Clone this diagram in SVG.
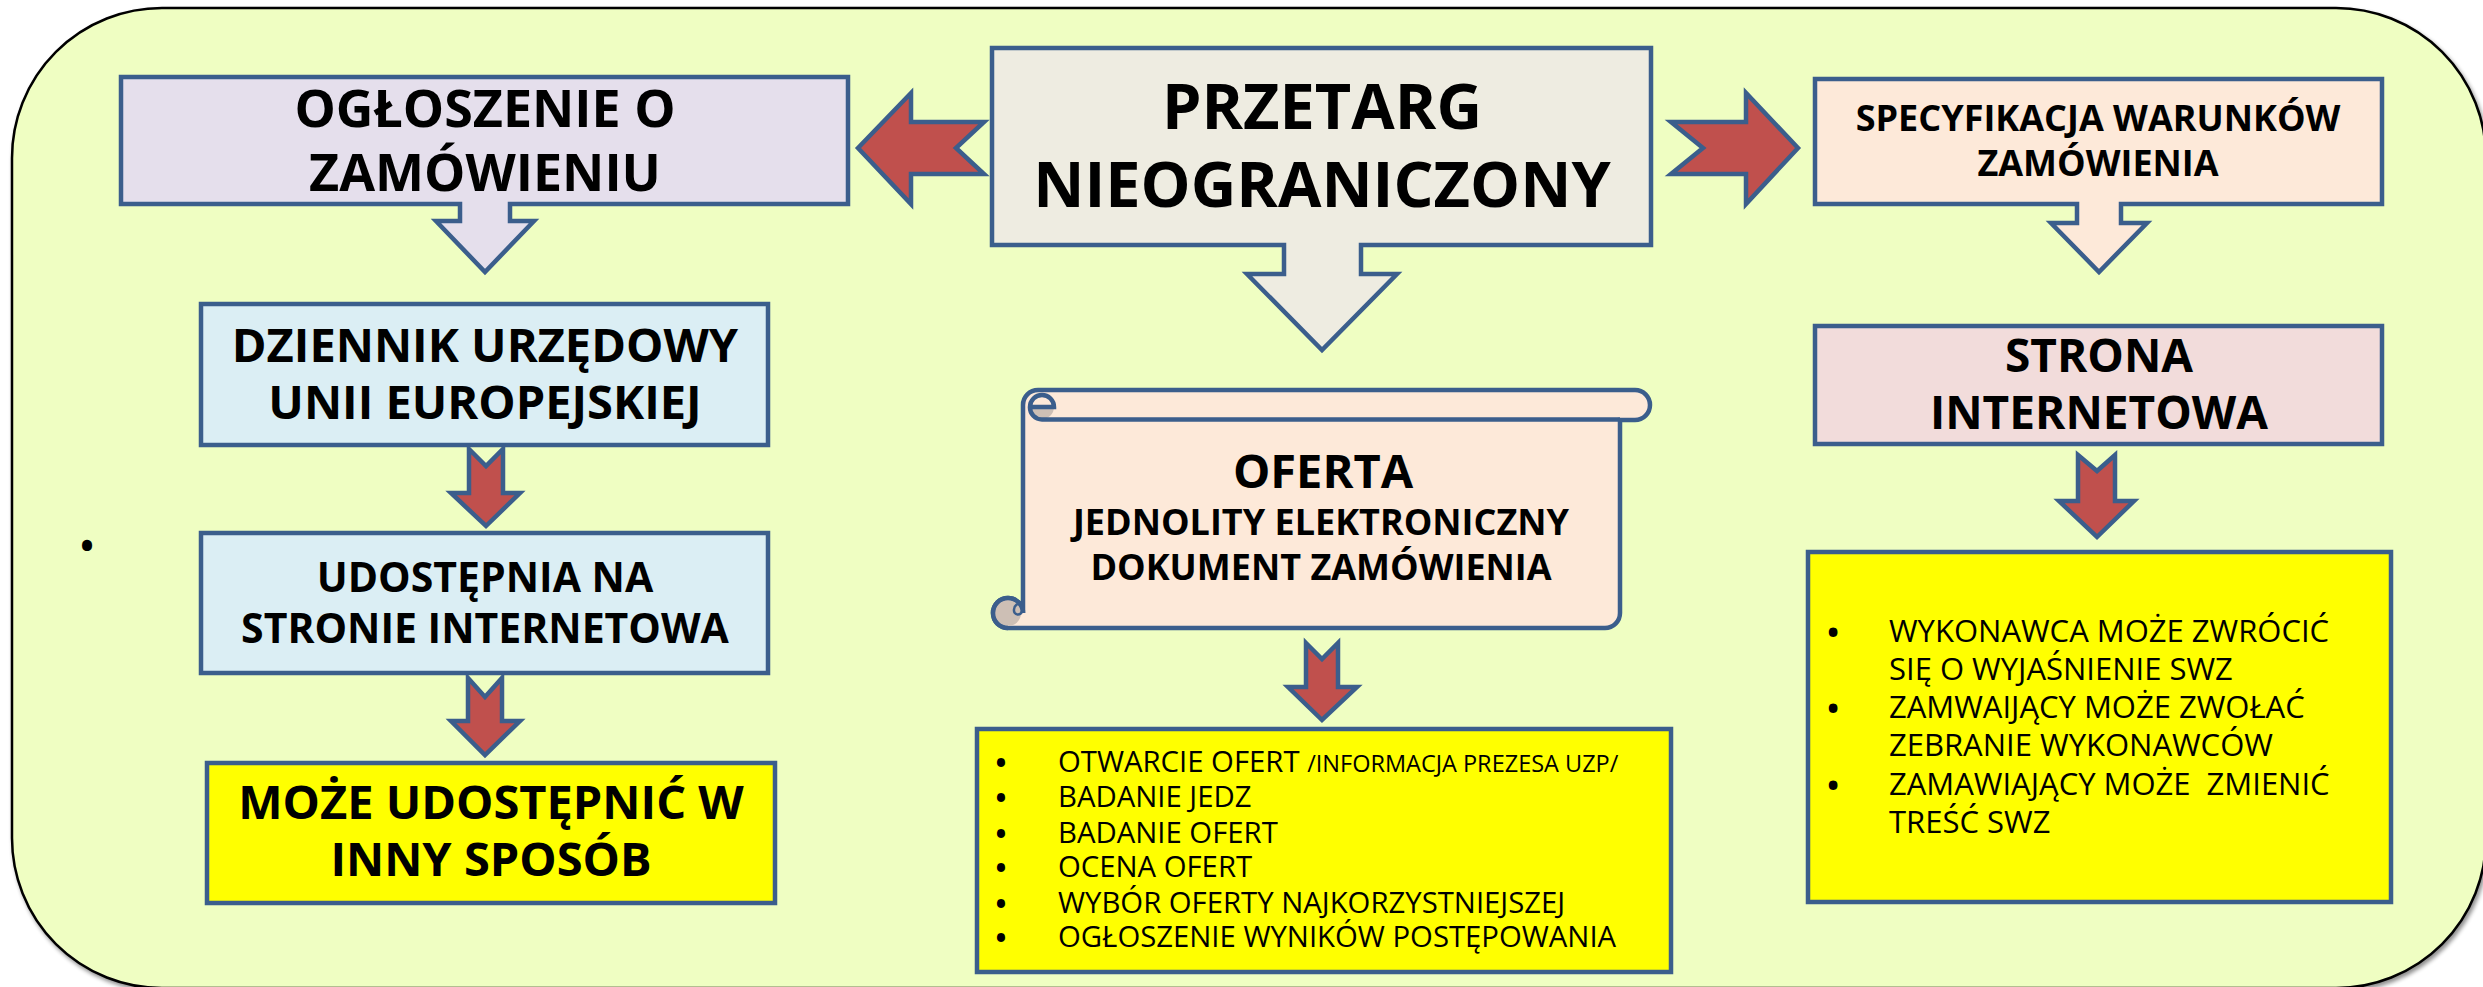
<svg xmlns="http://www.w3.org/2000/svg" width="2483" height="987" viewBox="0 0 2483 987">
<style>
.box{stroke:#3B5E8C;stroke-width:4.5;stroke-linejoin:miter}
.red{fill:#C0504D;stroke:#3B5E8C;stroke-width:4.5;stroke-linejoin:miter}
.tb{font-family:"Open Sans","Noto Sans","DejaVu Sans",sans-serif;font-weight:700;text-anchor:middle;fill:#000}
.tr{font-family:"Open Sans","Noto Sans","DejaVu Sans",sans-serif;font-weight:400;fill:#000;white-space:pre}
.bul{font-family:"Open Sans","Noto Sans","DejaVu Sans",sans-serif;font-weight:700;text-anchor:middle;fill:#000}
</style>
<defs>
<filter id="sh" x="-5%" y="-5%" width="110%" height="110%">
<feGaussianBlur in="SourceAlpha" stdDeviation="2"/>
<feOffset dx="2" dy="3" result="b"/>
<feComponentTransfer><feFuncA type="linear" slope="0.45"/></feComponentTransfer>
<feMerge><feMergeNode/><feMergeNode in="SourceGraphic"/></feMerge>
</filter>
</defs>
<rect width="2483" height="987" fill="#FFFFFF"/>
<g id="background">
<rect x="12" y="8" width="2474" height="980" rx="150" ry="150" fill="#EFFEC2" stroke="#000" stroke-width="2.5" filter="url(#sh)"/>
<text class="bul" x="87" y="559" font-size="36">•</text>
</g>
<g id="node-przetarg">
<path class="box" fill="#EEECE1" d="M992,48 H1651 V245 H1361 V274 H1397 L1322,350 L1247,274 H1284 V245 H992 Z"/>
<text class="tb" x="1322" y="129" font-size="63">PRZETARG</text>
<text class="tb" x="1322" y="207" font-size="63">NIEOGRANICZONY</text>
</g>
<g id="node-ogloszenie">
<path class="box" fill="#E5DFEC" d="M121,77 H848 V204 H510 V221 H534 L485,272 L436,221 H460 V204 H121 Z"/>
<text class="tb" x="485" y="127" font-size="52">OGŁOSZENIE O</text>
<text class="tb" x="485" y="191" font-size="52">ZAMÓWIENIU</text>
</g>
<g id="node-specyfikacja">
<path class="box" fill="#FDE9D9" d="M1815,79 H2382 V204 H2121 V223 H2147 L2099,272 L2051,223 H2077 V204 H1815 Z"/>
<text class="tb" x="2098" y="131" font-size="36">SPECYFIKACJA WARUNKÓW</text>
<text class="tb" x="2098" y="176" font-size="36">ZAMÓWIENIA</text>
</g>
<g id="node-dziennik">
<rect class="box" fill="#DBEEF4" x="201" y="304" width="567" height="141"/>
<text class="tb" x="485" y="362" font-size="47">DZIENNIK URZĘDOWY</text>
<text class="tb" x="485" y="419" font-size="47">UNII EUROPEJSKIEJ</text>
</g>
<g id="node-udostepnia">
<rect class="box" fill="#DBEEF4" x="201" y="533" width="567" height="140"/>
<text class="tb" x="485" y="592" font-size="41">UDOSTĘPNIA NA</text>
<text class="tb" x="485" y="643" font-size="41">STRONIE INTERNETOWA</text>
</g>
<g id="node-moze">
<rect class="box" fill="#FFFF00" x="207" y="763" width="568" height="140"/>
<text class="tb" x="491" y="819" font-size="47">MOŻE UDOSTĘPNIĆ W</text>
<text class="tb" x="491" y="876" font-size="47">INNY SPOSÓB</text>
</g>
<g id="node-oferta">
<path class="box" fill="#FDE9D9" d="M1038,390 H1635 A15,15 0 0 1 1635,420 H1620 V613 A15,15 0 0 1 1605,628 H1008 A15,15 0 0 1 1008,598 A15,15 0 0 1 1023,613 V405 A15,15 0 0 1 1038,390 Z"/>
<path d="M1030,407 H1054 A12,12 0 0 1 1042,419 A12,12 0 0 1 1030,407 Z" fill="#CDBFB5"/>
<path d="M1030,407 A12,12 0 0 1 1054,407 H1030 M1030,407 A12,12 0 0 0 1042,419.5 H1620" fill="none" stroke="#3B5E8C" stroke-width="4.5"/>
<circle cx="1008" cy="613" r="13" fill="#CDBFB5"/>
<path d="M1008,628 A15,15 0 0 1 1008,598 A15,15 0 0 1 1023,613" fill="none" stroke="#3B5E8C" stroke-width="4.5"/>
<path d="M1022,604 A6,6 0 0 0 1014,610 A4,4 0 0 0 1022,611" fill="none" stroke="#3B5E8C" stroke-width="2.5"/>
<text class="tb" x="1323" y="488" font-size="47">OFERTA</text>
<text class="tb" x="1321" y="535" font-size="36">JEDNOLITY ELEKTRONICZNY</text>
<text class="tb" x="1321" y="580" font-size="36">DOKUMENT ZAMÓWIENIA</text>
</g>
<g id="node-lista-ofert">
<rect class="box" fill="#FFFF00" x="977" y="729" width="694" height="243"/>
<g class="bul" font-size="29">
<text x="1001" y="773">•</text><text x="1001" y="808">•</text><text x="1001" y="844">•</text>
<text x="1001" y="878">•</text><text x="1001" y="914">•</text><text x="1001" y="948">•</text>
</g>
<g class="tr" font-size="29.3">
<text x="1058" y="772">OTWARCIE OFERT <tspan font-size="23.5">/INFORMACJA PREZESA UZP/</tspan></text>
<text x="1058" y="807">BADANIE JEDZ</text>
<text x="1058" y="843">BADANIE OFERT</text>
<text x="1058" y="877">OCENA OFERT</text>
<text x="1058" y="913">WYBÓR OFERTY NAJKORZYSTNIEJSZEJ</text>
<text x="1058" y="947">OGŁOSZENIE WYNIKÓW POSTĘPOWANIA</text>
</g>
</g>
<g id="node-strona">
<rect class="box" fill="#F2DCDB" x="1815" y="326" width="567" height="118"/>
<text class="tb" x="2099" y="372" font-size="46">STRONA</text>
<text class="tb" x="2099" y="429" font-size="46">INTERNETOWA</text>
</g>
<g id="node-wyjasnienia">
<rect class="box" fill="#FFFF00" x="1808" y="552" width="583" height="350"/>
<g class="bul" font-size="31">
<text x="1833" y="643">•</text><text x="1833" y="719">•</text><text x="1833" y="796">•</text>
</g>
<g class="tr" font-size="31">
<text x="1889" y="642">WYKONAWCA MOŻE ZWRÓCIĆ</text>
<text x="1889" y="680">SIĘ O WYJAŚNIENIE SWZ</text>
<text x="1889" y="718">ZAMWAIJĄCY MOŻE ZWOŁAĆ</text>
<text x="1889" y="756">ZEBRANIE WYKONAWCÓW</text>
<text x="1889" y="795" xml:space="preserve">ZAMAWIAJĄCY MOŻE  ZMIENIĆ</text>
<text x="1889" y="833">TREŚĆ SWZ</text>
</g>
</g>
<g id="connectors">
<path class="red" d="M858,148 L911,93 V122 H984 L956,148 L984,174 H911 V204 Z"/>
<path class="red" d="M1798,148 L1746,93 V122 H1671 L1703,148 L1671,174 H1746 V204 Z"/>
<path class="red" d="M469,449 L486,466 L503,449 V493 H520 L486,526 L451,493 H469 Z"/>
<path class="red" d="M468,678 L485,697 L502,678 V721 H520 L485,755 L451,721 H468 Z"/>
<path class="red" d="M1306,643 L1322,659 L1338,643 V687 H1357 L1322,720 L1288,687 H1306 Z"/>
<path class="red" d="M2078,455 L2097,471 L2115,455 V501 H2134 L2097,537 L2059,501 H2078 Z"/>
</g>
</svg>
